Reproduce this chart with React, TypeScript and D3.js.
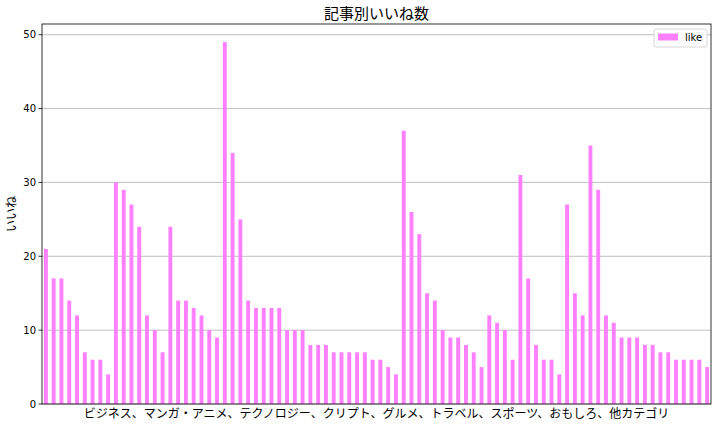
import React from "react";
import * as d3 from "d3";

const likes: number[] = [
  21, 17, 17, 14, 12, 7, 6, 6, 4,
  30, 29, 27, 24, 12, 10, 7,
  24, 14, 14, 13, 12, 10, 9,
  49, 34, 25, 14, 13, 13, 13, 13, 10, 10, 10, 8, 8, 8, 7, 7, 7, 7, 7, 6, 6, 5, 4,
  37, 26, 23, 15, 14, 10, 9, 9, 8, 7, 5, 12, 11, 10, 6,
  31, 17, 8, 6, 6, 4,
  27, 15, 12, 35, 29, 12, 11, 9, 9, 9, 8, 8, 7, 7, 6, 6, 6, 6, 5,
];
const yTicks: number[] = [0, 10, 20, 30, 40, 50];
const title = "記事別いいね数";
const xLabel = "ビジネス、マンガ・アニメ、テクノロジー、クリプト、グルメ、トラベル、スポーツ、おもしろ、他カテゴリ";
const yLabel = "いいね";
const seriesName = "like";

const W = 722;
const H = 427;
const M = { left: 42, right: 711, top: 24, bottom: 404 };
const BAR = "#ff80ff";
const JP = "'Noto Sans CJK JP', sans-serif";
const TICKF = "'DejaVu Sans', sans-serif";

export default function App() {
  const n = likes.length;
  const x = d3.scaleLinear().domain([-0.5, n - 0.5]).range([M.left, M.right]);
  const yMax = d3.max(likes)! * 1.05;
  const y = d3.scaleLinear().domain([0, yMax]).range([M.bottom, M.top]);
  const bw = x(0.25) - x(0);

  return (
    <svg width={W} height={H} style={{ position: "absolute", left: 0, top: 0, background: "#fff" }}>
      <rect x={0} y={0} width={W} height={H} fill="#fff" />
      {yTicks.map((t) => (
        <line key={"g" + t} x1={M.left} x2={M.right} y1={y(t)} y2={y(t)} stroke="#b0b0b0" strokeWidth={0.8} />
      ))}
      {likes.map((v, i) => (
        <rect key={i} x={x(i) - bw} y={y(v)} width={bw * 2} height={y(0) - y(v)} fill={BAR} />
      ))}
      <rect x={M.left} y={M.top} width={M.right - M.left} height={M.bottom - M.top} fill="none" stroke="#000" strokeWidth={0.8} />
      {yTicks.map((t) => (
        <g key={"t" + t}>
          <line x1={M.left - 3.5} x2={M.left} y1={y(t)} y2={y(t)} stroke="#000" strokeWidth={0.8} />
          <text x={M.left - 6} y={y(t)} dy="0.35em" textAnchor="end" fontSize={10} fontFamily={TICKF} fill="#000">
            {t}
          </text>
        </g>
      ))}
      <text x={(M.left + M.right) / 2} y={18.5} textAnchor="middle" fontSize={15} fontFamily={JP} fill="#000">
        {title}
      </text>
      <text x={(M.left + M.right) / 2} y={418} textAnchor="middle" fontSize={12} fontFamily={JP} fill="#000">
        {xLabel}
      </text>
      <text
        transform={`translate(${16},${(M.top + M.bottom) / 2}) rotate(-90)`}
        textAnchor="middle"
        fontSize={12}
        fontFamily={JP}
        fill="#000"
      >
        {yLabel}
      </text>
      <g>
        <rect x={654} y={29} width={53} height={18} rx={2} fill="#fff" fillOpacity={0.8} stroke="#cccccc" strokeWidth={0.8} />
        <rect x={658} y={33.5} width={20} height={7} fill={BAR} />
        <text x={685} y={37} dy="0.35em" fontSize={10} fontFamily={TICKF} fill="#000">
          {seriesName}
        </text>
      </g>
    </svg>
  );
}
